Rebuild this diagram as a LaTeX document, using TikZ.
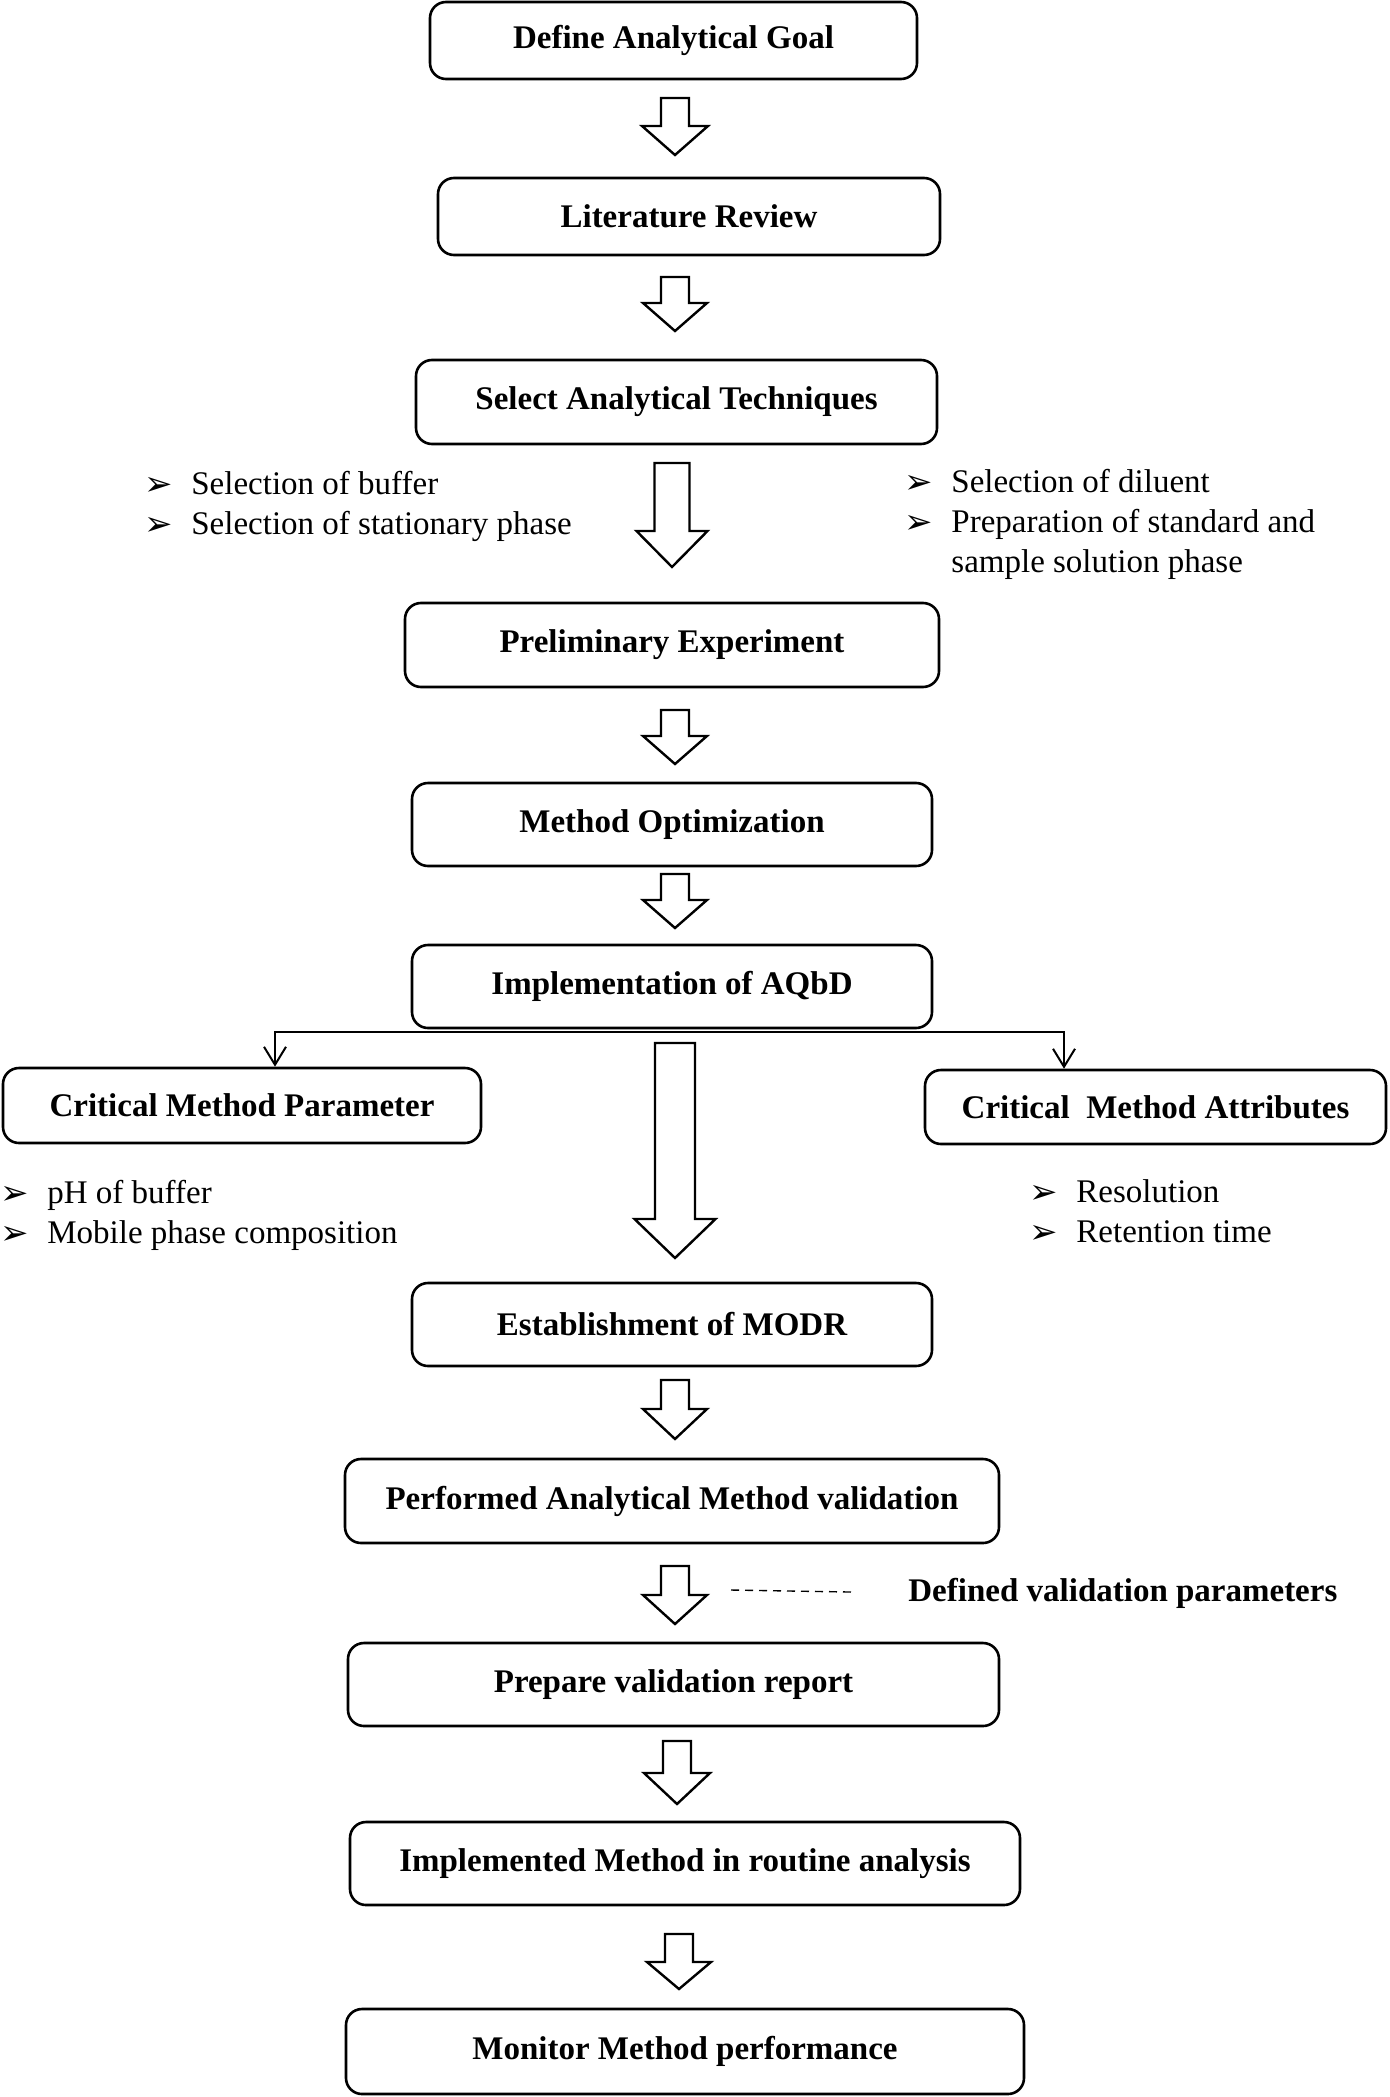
\documentclass[tikz,border=0pt]{standalone}
\usepackage{fontspec}
\setmainfont{Liberation Serif}
\newfontfamily\bulletfont{DejaVu Sans}
\usepackage{tikz}
\usetikzlibrary{positioning, arrows.meta}

\newcommand{\bul}{\makebox[23.5pt][l]{\bulletfont\fontsize{17}{17}\selectfont\raisebox{-0.5pt}{➢}}}

\begin{document}
\begin{tikzpicture}[x=0.5pt, y=-0.5pt,
        stepbox/.style = {draw, line width=1.3pt, rounded corners=8pt, align=center, inner sep=0pt, font=\fontsize{16.5}{20}\selectfont\bfseries},
        boxsize/.style 2 args = {minimum width=#1*0.5pt, minimum height=#2*0.5pt},
        bullets/.style = {anchor=west, align=left, inner sep=0pt, font=\fontsize{16.5}{20}\selectfont},
        branch/.style = {-{Straight Barb[length=9pt, width=11pt]}, line width=1pt},
        fat/.style = {draw, line width=1.2pt, fill=white, line join=miter},
        dashline/.style = {dash pattern=on 4pt off 3pt, line width=0.7pt}
    ]
    \useasboundingbox (0,0) rectangle (1389,2097);

    % Nodes
    \node (goal) [stepbox, boxsize={487}{77}] at (673.5,40.5) {Define Analytical Goal};
    \node (lit) [stepbox, boxsize={502}{77}] at (689,216.5) {Literature Review};
    \node (tech) [stepbox, boxsize={521}{84}] at (676.5,402) {Select Analytical Techniques};
    \node (prelim) [stepbox, boxsize={534}{84}] at (672,645) {Preliminary Experiment};
    \node (optim) [stepbox, boxsize={520}{83}] at (672,824.5) {Method Optimization};
    \node (aqbd) [stepbox, boxsize={520}{83}] at (672,986.5) {Implementation of AQbD};
    \node (cmp) [stepbox, boxsize={478}{75}] at (242,1105.5) {Critical Method Parameter};
    \node (cma) [stepbox, boxsize={461}{74}] at (1155.5,1107) {Critical\ \ Method Attributes};
    \node (modr) [stepbox, boxsize={520}{83}] at (672,1324.5) {Establishment of MODR};
    \node (valid) [stepbox, boxsize={654}{84}] at (672,1501) {Performed Analytical Method validation};
    \node (report) [stepbox, boxsize={651}{83}] at (673.5,1684.5) {Prepare validation report};
    \node (routine) [stepbox, boxsize={670}{83}] at (685,1863.5) {Implemented Method in routine analysis};
    \node (monitor) [stepbox, boxsize={678}{85}] at (685,2051.5) {Monitor Method performance};

    % Bullet lists
    \node (buflist) [bullets] at (144,506) {\bul Selection of buffer\\ \bul Selection of stationary phase};
    \node (dillist) [bullets] at (904,524) {\bul Selection of diluent\\ \bul Preparation of standard and\\ \hspace{23.5pt}sample solution phase};
    \node (cmplist) [bullets] at (0,1215) {\bul pH of buffer\\ \bul Mobile phase composition};
    \node (cmalist) [bullets] at (1029,1212) {\bul Resolution\\ \bul Retention time};
    \node (defval) [anchor=west, inner sep=0pt, font=\fontsize{16.5}{20}\selectfont\bfseries] at (908,1593) {Defined validation parameters};
    \coordinate (dashstart) at (731,1590);

    % Block arrows
    \foreach \c/\t/\l/\w/\s/\h in {675/98/57/66/28/29, 675/277/54/64/28/28, 672/463/104/71/35/36,
                                   675/710/54/64/28/28, 675/874/54/64/28/28, 675/1043/215/81/40/39,
                                   675/1380/59/64/28/30, 675/1566/58/64/28/29, 677/1741/63/66/28/31,
                                   679/1934/55/64/28/27}
        \draw[fat] (\c-\s/2,\t) -- (\c-\s/2,\t+\l-\h) -- (\c-\w/2,\t+\l-\h) -- (\c,\t+\l)
                   -- (\c+\w/2,\t+\l-\h) -- (\c+\s/2,\t+\l-\h) -- (\c+\s/2,\t) -- cycle;

    % Arrows
    \draw[branch] ([yshift=-1.5pt]aqbd.south) -| ([xshift=16.5pt]cmp.north);
    \draw[branch] ([yshift=-1.5pt]aqbd.south) -| ([xshift=-45.75pt]cma.north);
    \draw[dashline, shorten >=26pt] (dashstart) -- (defval.west);

\end{tikzpicture}
\end{document}
